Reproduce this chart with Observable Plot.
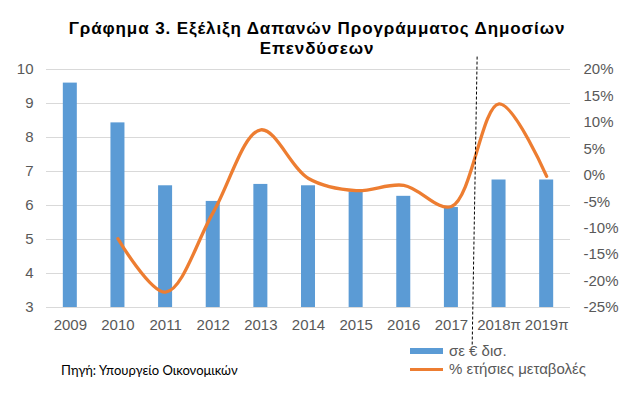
<!DOCTYPE html>
<html>
<head>
<meta charset="utf-8">
<script src="https://cdn.jsdelivr.net/npm/d3@7"></script>
<script src="https://cdn.jsdelivr.net/npm/@observablehq/plot@0.6"></script>
<style>
  html, body { margin: 0; padding: 0; background: #fff; }
  #wrap { position: relative; width: 640px; height: 393px; font-family: "Liberation Sans", Arial, sans-serif; }
  #title { position: absolute; left: 0; top: 19px; width: 634px; text-align: center; font-weight: bold; font-size: 17px; line-height: 20px; color: #000; letter-spacing: 0.9px; }
  #chart { position: absolute; left: 0; top: 0; }
  .leg { position: absolute; font-size: 15px; color: #595959; white-space: nowrap; }
  .sw { position: absolute; }
  #source { position: absolute; left: 61px; top: 362px; font-family: Lato, "Liberation Sans", Arial, sans-serif; font-size: 13px; color: #000; }
</style>
</head>
<body>
<div id="wrap">
  <div id="chart"></div>
  <div id="title">Γράφημα 3. Εξέλιξη Δαπανών Προγράμματος Δημοσίων<br>Επενδύσεων</div>
  <div class="sw" id="sw1" style="left:410px; top:348px; width:33px; height:6px;"></div>
  <div class="leg" style="left:449px; top:342px;">σε € δισ.</div>
  <div class="sw" id="sw2" style="left:410px; top:368px; width:33px; height:3px;"></div>
  <div class="leg" style="left:449px; top:360px;">% ετήσιες μεταβολές</div>
  <div id="source">Πηγή: Υπουργείο Οικονομικών</div>
</div>
<script>
const years = ["2009", "2010", "2011", "2012", "2013", "2014", "2015", "2016", "2017", "2018π", "2019π"];
const spending = [9.6, 8.43, 6.58, 6.12, 6.62, 6.58, 6.4, 6.27, 5.94, 6.75, 6.75];
const pctYears = ["2010", "2011", "2012", "2013", "2014", "2015", "2016", "2017", "2018π", "2019π"];
const pctChange = [-12, -22.1, -7, 8.6, -0.6, -2.9, -1.9, -5.9, 13.5, -0.2];
const leftTicks = [3, 4, 5, 6, 7, 8, 9, 10];
const rightTicks = [-25, -20, -15, -10, -5, 0, 5, 10, 15, 20];
// forecast divider (between 2017 and 2018π), in axis units
const divider = [{ from: 8.54, to: 8.436, top: 10.38, bottom: 1.88 }];

const blue = "#5B9BD5";
const orange = "#ED7D31";
const grey = "#595959";
document.getElementById("sw1").style.background = blue;
document.getElementById("sw2").style.background = orange;

// map right-axis percent onto the left-axis value scale
const pMin = -25, pMax = 20, lMin = 3, lMax = 10;
const toLeft = p => lMin + (p - pMin) * (lMax - lMin) / (pMax - pMin);
const toPct = v => pMin + (v - lMin) * (pMax - pMin) / (lMax - lMin);

const bars = years.map((year, i) => ({ i, year, value: spending[i] }));
const pct = pctYears.map((year, k) => ({ i: years.indexOf(year), year, p: pctChange[k] }));

const chart = Plot.plot({
  width: 640,
  height: 393,
  marginTop: 69,
  marginBottom: 86,
  marginLeft: 46,
  marginRight: 70,
  style: { fontFamily: "'Liberation Sans', Arial, sans-serif", fontSize: "15px", color: grey, background: "transparent" },
  x: { type: "linear", domain: [-0.5, years.length - 0.5] },
  y: { domain: [lMin, lMax] },
  marks: [
    Plot.ruleY(leftTicks, { stroke: "#d9d9d9", strokeWidth: 1 }),
    Plot.rectY(bars, { x1: d => d.i - 0.147, x2: d => d.i + 0.147, y1: lMin, y2: "value", fill: blue }),
    Plot.line(pct, { x: "i", y: d => toLeft(d.p), curve: "catmull-rom", stroke: orange, strokeWidth: 3.3, strokeLinecap: "round" }),
    Plot.link(divider, { x1: "from", y1: "top", x2: "to", y2: "bottom", stroke: "#000", strokeWidth: 1, strokeDasharray: "3,2" }),
    Plot.axisY(leftTicks, { anchor: "left", tickSize: 0, tickPadding: 13, label: null, fill: grey, fontSize: 15 }),
    Plot.axisY(rightTicks.map(toLeft), { anchor: "right", tickSize: 0, tickPadding: 13, label: null, fill: grey, fontSize: 15,
      tickFormat: v => Math.round(toPct(v)) + "%" }),
    Plot.axisX(d3.range(years.length), { anchor: "bottom", tickSize: 0, tickPadding: 12, label: null, fill: grey, fontSize: 15,
      tickFormat: i => years[i] })
  ]
});
document.getElementById("chart").appendChild(chart);
</script>
</body>
</html>
